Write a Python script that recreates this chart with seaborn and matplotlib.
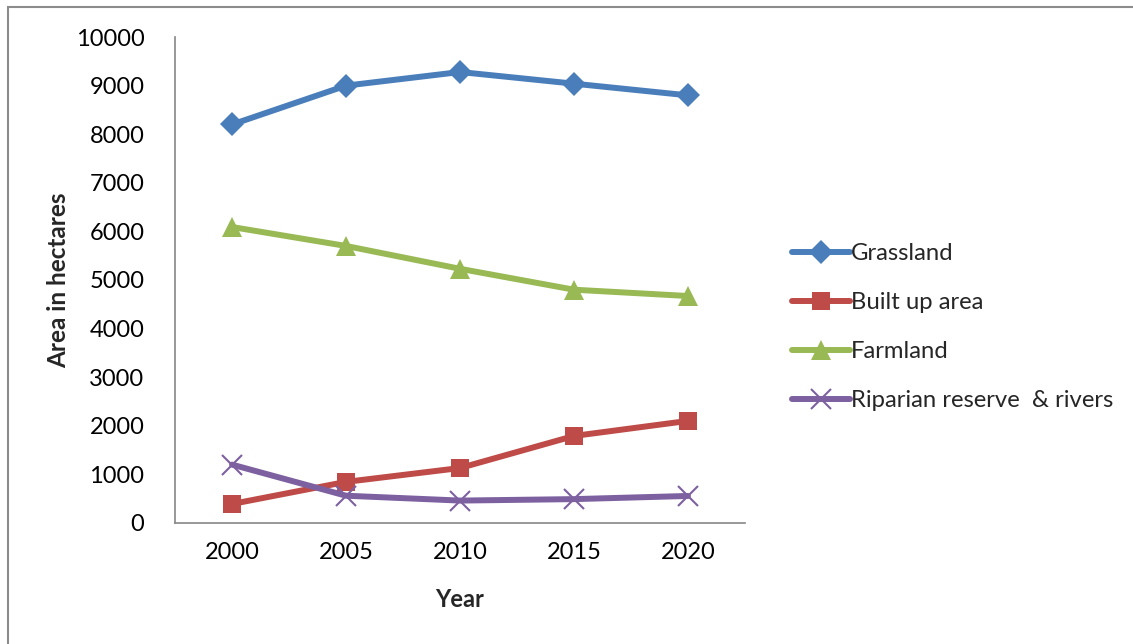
import matplotlib
matplotlib.use("Agg")
import matplotlib.pyplot as plt
import numpy as np
import pandas as pd
import seaborn as sns
from matplotlib.patches import Rectangle

# Date
years = [2000, 2005, 2010, 2015, 2020]
grassland = [8200, 9000, 9280, 9040, 8800]
built_up = [390, 845, 1130, 1790, 2100]
farmland = [6090, 5700, 5230, 4800, 4670]
riparian = [1200, 560, 460, 490, 555]

series = ["Grassland", "Built up area", "Farmland", "Riparian reserve  & rivers"]
colors = ["#4A7EBB", "#BE4B48", "#98B954", "#7D60A0"]
markers = ["D", "s", "^", "x"]
msizes = [12, 13, 15, 14]

df = pd.DataFrame({
    "Year": years * 4,
    "Area": grassland + built_up + farmland + riparian,
    "Series": np.repeat(series, len(years)),
})

sns.set_theme(style="white")
plt.rcParams["font.family"] = ["Lato", "DejaVu Sans"]

fig = plt.figure(figsize=(11.33, 6.44), dpi=100)
ax = fig.add_axes([0.1545, 0.188, 0.503, 0.7545])

for name, col, mk, ms in zip(series, colors, markers, msizes):
    sub = df[df["Series"] == name]
    sns.lineplot(data=sub, x="Year", y="Area", ax=ax, color=col, linewidth=4.3,
                 marker=mk, markersize=ms, markeredgecolor=col,
                 markeredgewidth=1.5 if mk == "x" else 0, label=name)

ax.set_xlim(1997.5, 2022.5)
ax.set_ylim(0, 10000)
ax.set_xticks(years)
ax.set_yticks(range(0, 10001, 1000))
ax.tick_params(axis="both", length=0, labelsize=17, colors="black")
ax.tick_params(axis="y", pad=22)
ax.tick_params(axis="x", pad=14)
ax.set_xlabel("Year", fontsize=17, fontweight="bold", labelpad=18)
ax.set_ylabel("Area in hectares", fontsize=17.5, fontweight="bold", labelpad=4)

for s in ["top", "right"]:
    ax.spines[s].set_visible(False)
for s in ["left", "bottom"]:
    ax.spines[s].set_color("#868686")
    ax.spines[s].set_linewidth(1.2)

ax.legend(loc="center left", bbox_to_anchor=(0.691, 0.492), bbox_transform=fig.transFigure,
          frameon=False, fontsize=17.2, handlelength=2.4, handletextpad=0.05,
          labelspacing=1.17, borderaxespad=0)

fig.patches.append(Rectangle((8 / 1133, -0.1), 1.2, 1 - 7 / 644 + 0.1,
                             transform=fig.transFigure, fill=False,
                             edgecolor="#8c8c8c", linewidth=1.5))

fig.savefig("out.png", dpi=100)
